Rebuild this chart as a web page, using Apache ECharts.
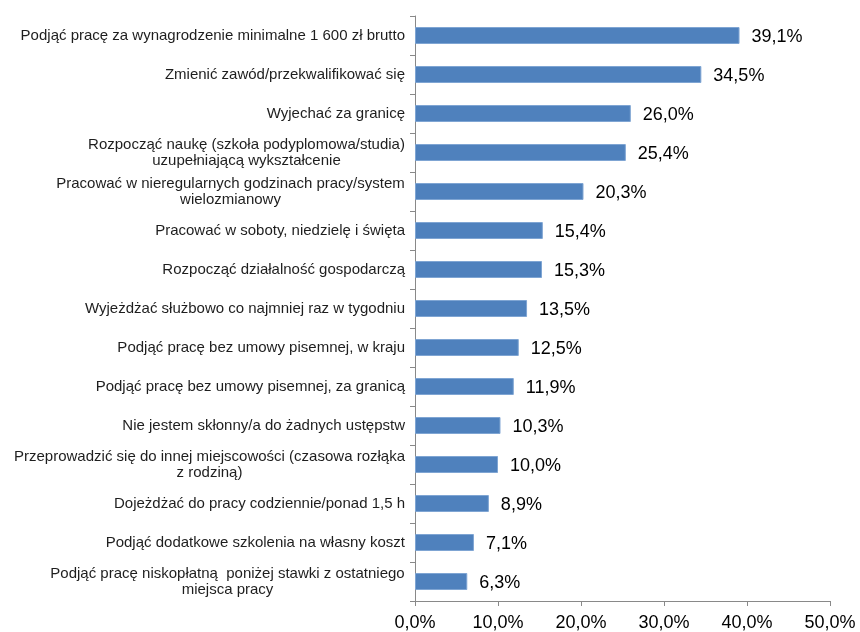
<!DOCTYPE html>
<html>
<head>
<meta charset="utf-8">
<script src="https://cdn.jsdelivr.net/npm/echarts@6/dist/echarts.min.js"></script>
<style>
  html, body { margin: 0; padding: 0; background: #fff; }
  #chart { width: 860px; height: 632px; }
</style>
</head>
<body>
<div id="chart"></div>
<script>
// kategorie (od góry)
const categories = [
  'Podjąć pracę za wynagrodzenie minimalne 1 600 zł brutto',
  'Zmienić zawód/przekwalifikować się',
  'Wyjechać za granicę',
  'Rozpocząć naukę (szkoła podyplomowa/studia)\nuzupełniającą wykształcenie',
  'Pracować w nieregularnych godzinach pracy/system\nwielozmianowy',
  'Pracować w soboty, niedzielę i święta',
  'Rozpocząć działalność gospodarczą',
  'Wyjeżdżać służbowo co najmniej raz w tygodniu',
  'Podjąć pracę bez umowy pisemnej, w kraju',
  'Podjąć pracę bez umowy pisemnej, za granicą',
  'Nie jestem skłonny/a do żadnych ustępstw',
  'Przeprowadzić się do innej miejscowości (czasowa rozłąka\nz rodziną)',
  'Dojeżdżać do pracy codziennie/ponad 1,5 h',
  'Podjąć dodatkowe szkolenia na własny koszt',
  'Podjąć pracę niskopłatną  poniżej stawki z ostatniego\nmiejsca pracy'
];
const values = [39.1, 34.5, 26.0, 25.4, 20.3, 15.4, 15.3, 13.5, 12.5, 11.9, 10.3, 10.0, 8.9, 7.1, 6.3];

const fontFamily = '"Liberation Sans", Arial, sans-serif';
const labelFontSize = 15;
const fmtPct = v => v.toFixed(1).replace('.', ',') + '%';

// szerokość najdłuższej linii – żeby wieloliniowe etykiety były wyśrodkowane
const ctx = document.createElement('canvas').getContext('2d');
ctx.font = labelFontSize + 'px ' + fontFamily;
function lineWidth(s) {
  return Math.max(...s.split('\n').map(l => ctx.measureText(l).width));
}

const baseStyle = {
  color: '#1e1e1e',
  fontSize: labelFontSize,
  lineHeight: 16,
  fontFamily: fontFamily
};
const rich = { r: Object.assign({}, baseStyle, { align: 'right' }) };
categories.forEach(s => {
  if (s.indexOf('\n') >= 0) {
    const w = Math.ceil(lineWidth(s));
    rich['w' + w] = Object.assign({}, baseStyle, { width: w, align: 'center' });
  }
});

let chart = echarts.init(document.getElementById('chart'));
let option = {
  animation: false,
  grid: { left: 415, right: 30, top: 16, bottom: 31 },
  xAxis: {
    type: 'value',
    min: 0,
    max: 50,
    interval: 10,
    axisLine: { show: true, lineStyle: { color: '#898989' } },
    axisTick: { show: true, length: 5, lineStyle: { color: '#898989' } },
    splitLine: { show: false },
    axisLabel: {
      formatter: v => fmtPct(v),
      color: '#000',
      fontSize: 18,
      fontFamily: fontFamily,
      margin: 13
    }
  },
  yAxis: {
    type: 'category',
    inverse: true,
    data: categories,
    axisLine: { show: true, lineStyle: { color: '#898989' } },
    axisTick: { show: true, length: 5, lineStyle: { color: '#898989' } },
    axisLabel: {
      margin: 10,
      interval: 0,
      formatter: s => {
        const lines = s.split('\n');
        if (lines.length === 1) return '{r|' + s + '}';
        const w = Math.ceil(lineWidth(s));
        return lines.map(l => '{w' + w + '|' + l + '}').join('\n');
      },
      rich: rich
    }
  },
  series: [
    {
      type: 'bar',
      data: values,
      barWidth: 17,
      itemStyle: { color: '#4f81bd', borderColor: '#7fa5d3', borderWidth: 1 },
      label: {
        show: true,
        position: 'right',
        distance: 12,
        offset: [0, 2],
        formatter: p => fmtPct(p.value),
        color: '#000',
        fontSize: 18,
        fontFamily: fontFamily
      }
    }
  ]
};

option && chart.setOption(option);
</script>
</body>
</html>
